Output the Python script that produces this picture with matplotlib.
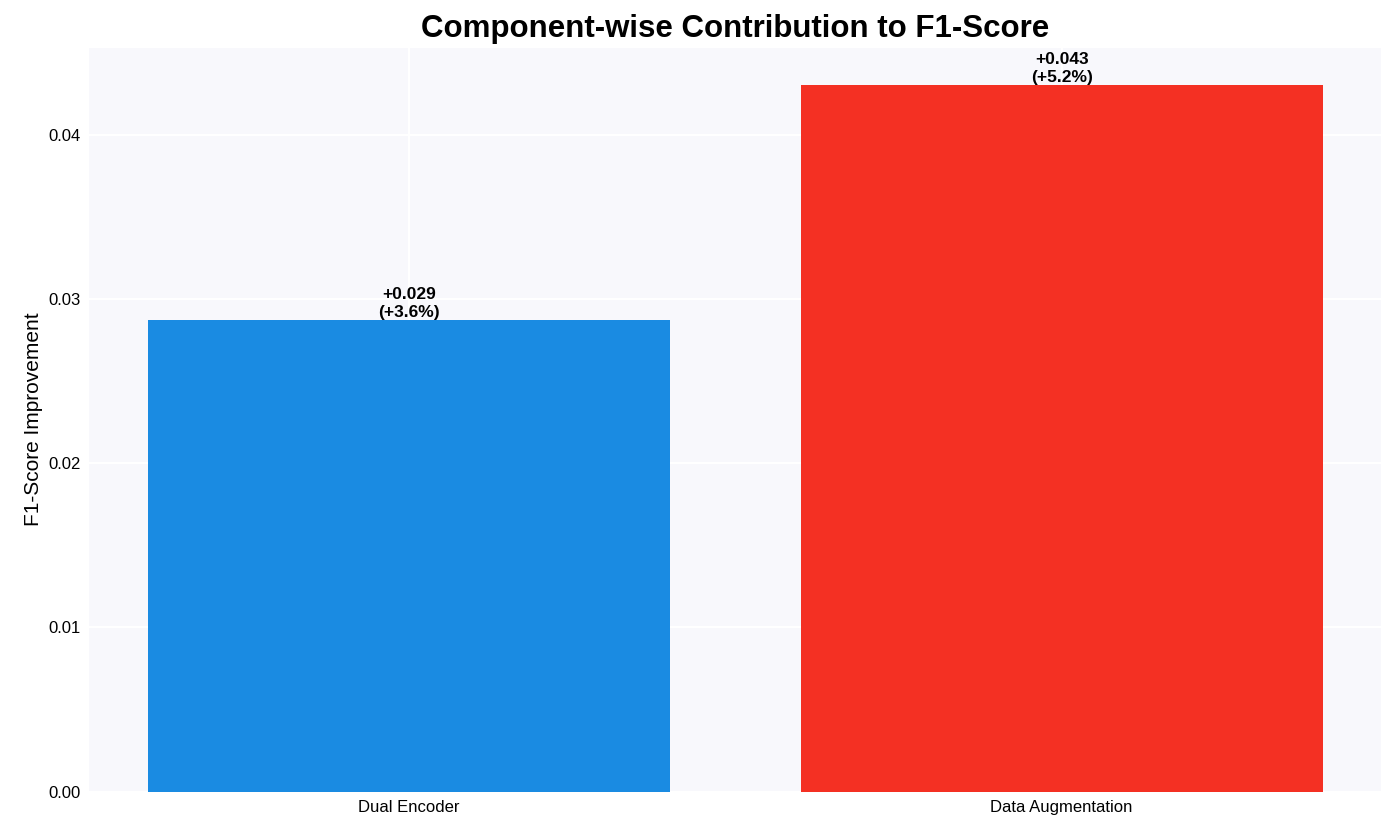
import numpy as np
import matplotlib.pyplot as plt

plt.rcParams['font.family'] = ['Liberation Sans', 'DejaVu Sans']

components = ['Dual Encoder', 'Data Augmentation']
improvement = [0.0287, 0.0430]
pct_gain = [3.6, 5.2]
colors = ['#1A8BE2', '#F43023']

fig, ax = plt.subplots(figsize=(13.94, 8.22), dpi=100)
fig.subplots_adjust(left=0.064, right=0.991, top=0.942, bottom=0.037)
ax.set_facecolor('#F8F8FC')
for s in ax.spines.values():
    s.set_visible(False)
ax.grid(True, color='white', linewidth=1.5)
ax.set_axisbelow(True)
ax.tick_params(length=0, labelsize=12, pad=6)

x = np.arange(len(components))
bars = ax.bar(x, improvement, color=colors, width=0.8)
for b, v, p in zip(bars, improvement, pct_gain):
    ax.text(b.get_x() + b.get_width()/2, b.get_height(), f'+{v:.3f}\n(+{p:.1f}%)',
            ha='center', va='bottom', fontsize=12.5, fontweight='bold', linespacing=1.25)

ax.set_xticks(x)
ax.set_xticklabels(components)
ax.set_ylabel('F1-Score Improvement', fontsize=15)
ax.set_title('Component-wise Contribution to F1-Score', fontsize=22.5, fontweight='bold', pad=8)
ax.set_yticks([0.0, 0.01, 0.02, 0.03, 0.04])
ax.set_ylim(0, 0.0453)

fig.savefig('out.png', dpi=100)
